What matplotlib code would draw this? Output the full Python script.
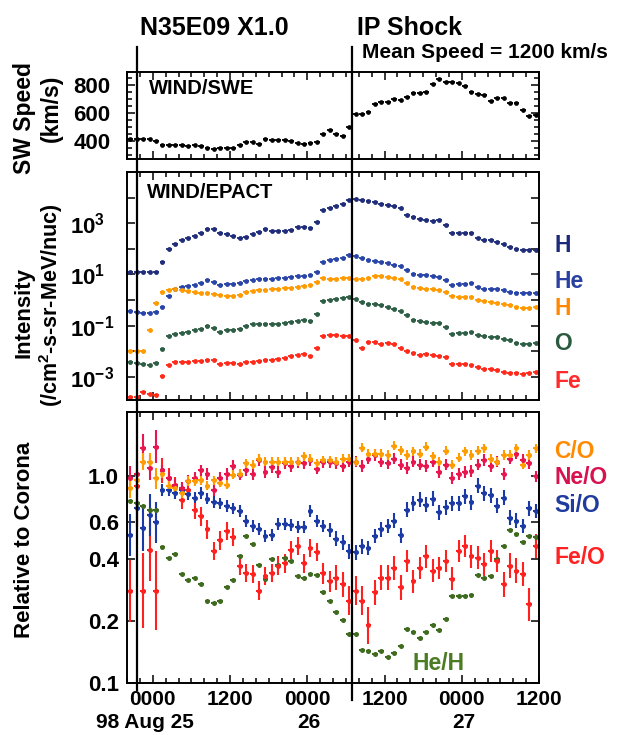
import numpy as np
import matplotlib
matplotlib.use("Agg")
import matplotlib.pyplot as plt
from matplotlib import transforms
from matplotlib.ticker import MultipleLocator, FixedLocator, FuncFormatter, NullLocator

plt.rcParams['font.family'] = ['Liberation Sans', 'DejaVu Sans']
plt.rcParams['font.weight'] = 'bold'
plt.rcParams['mathtext.fontset'] = 'custom'
plt.rcParams['mathtext.rm'] = 'Liberation Sans:bold'
plt.rcParams['mathtext.it'] = 'Liberation Sans:bold:italic'
plt.rcParams['mathtext.bf'] = 'Liberation Sans:bold'

# ---------------- data ----------------
# hourly averages, hours relative to 1998 Aug 25 0000 UT
hours = np.arange(-3.5, 60.5, 1.0)
flare_hour = -2.5      # N35E09 X1.0 flare
shock_hour = 30.9      # IP shock arrival

sw_speed = [416, 416, 414, 412, 395, 369, 369, 369, 369, 362,
            372, 362, 350, 338, 345, 345, 345, 369, 393, 388,
            379, 416, 405, 402, 402, 398, 383, 379, 386, 391,
            445, 474, 445, 433, 498, 593, 590, 607, 659, 679,
            674, 695, 690, 712, 743, 743, 748, 802, 838, 821,
            821, 814, 791, 750, 736, 729, 683, 702, 702, 671,
            667, 616, 576, 583]

# log10 intensities (/cm2-s-sr-MeV/nuc)
H_high_log = [1.1, 1.1, 1.1, 1.1, 1.1, 1.49, 2.01, 2.2, 2.34, 2.44,
              2.49, 2.6, 2.77, 2.77, 2.62, 2.57, 2.49, 2.44, 2.46, 2.57,
              2.66, 2.77, 2.70, 2.68, 2.70, 2.75, 2.86, 2.86, 2.83, 3.03,
              3.51, 3.6, 3.66, 3.77, 3.92, 3.93, 3.92, 3.87, 3.83, 3.77,
              3.70, 3.66, 3.60, 3.34, 3.25, 3.18, 3.14, 3.09, 3.12, 2.92,
              2.62, 2.62, 2.62, 2.6, 2.44, 2.36, 2.34, 2.27, 2.2, 2.07,
              2.01, 1.97, 1.97, 1.97]
He_log = [-0.44, -0.46, -0.5, -0.49, -0.46, -0.27, 0.15, 0.45, 0.51, 0.55,
          0.58, 0.67, 0.77, 0.71, 0.58, 0.64, 0.64, 0.67, 0.75, 0.80,
          0.84, 0.84, 0.84, 0.88, 0.88, 0.90, 0.93, 0.93, 0.97, 1.1,
          1.49, 1.58, 1.62, 1.66, 1.75, 1.71, 1.64, 1.58, 1.53, 1.49,
          1.43, 1.38, 1.32, 1.16, 1.03, 0.97, 0.97, 0.93, 0.90, 0.80,
          0.58, 0.61, 0.61, 0.67, 0.51, 0.45, 0.45, 0.45, 0.41, 0.32,
          0.28, 0.28, 0.28, 0.28]
H_low_log = [-2.0, -2.0, -2.0, -1.15, -0.11, 0.32, 0.41, 0.45, 0.41, 0.36,
             0.32, 0.28, 0.28, 0.23, 0.19, 0.15, 0.15, 0.19, 0.32, 0.36,
             0.38, 0.41, 0.45, 0.45, 0.47, 0.49, 0.51, 0.54, 0.58, 0.7,
             0.88, 0.84, 0.84, 0.88, 0.88, 0.84, 0.84, 0.88, 0.93, 0.93,
             0.90, 0.88, 0.84, 0.67, 0.51, 0.49, 0.45, 0.45, 0.41, 0.32,
             0.15, 0.12, 0.12, 0.12, -0.01, -0.04, -0.08, -0.11, -0.16, -0.2,
             -0.27, -0.3, -0.3, -0.27]
O_log = [-2.42, -2.46, -2.5, -2.55, -2.46, -1.9, -1.41, -1.31, -1.28, -1.24,
         -1.18, -1.12, -1.02, -1.07, -1.24, -1.18, -1.15, -1.12, -1.02, -0.95,
         -0.93, -0.93, -0.93, -0.93, -0.9, -0.85, -0.82, -0.77, -0.82, -0.55,
         -0.03, 0.02, 0.06, 0.1, 0.12, 0.06, -0.07, -0.14, -0.16, -0.2,
         -0.27, -0.33, -0.42, -0.59, -0.76, -0.8, -0.85, -0.89, -0.89, -1.05,
         -1.34, -1.28, -1.28, -1.24, -1.37, -1.41, -1.43, -1.43, -1.5, -1.57,
         -1.67, -1.7, -1.7, -1.67]
Fe_log = [-3.78, -3.8, -3.59, -3.65, -3.7, -2.98, -2.55, -2.42, -2.42, -2.42,
          -2.39, -2.37, -2.33, -2.35, -2.5, -2.46, -2.46, -2.48, -2.42, -2.42,
          -2.37, -2.35, -2.33, -2.31, -2.26, -2.2, -2.16, -2.11, -2.2, -1.86,
          -1.41, -1.35, -1.37, -1.41, -1.41, -1.57, -1.88, -1.65, -1.65, -1.72,
          -1.69, -1.72, -1.86, -1.98, -2.07, -2.16, -2.11, -2.16, -2.18, -2.22,
          -2.5, -2.5, -2.5, -2.52, -2.63, -2.68, -2.68, -2.74, -2.8, -2.85,
          -2.85, -2.9, -2.85, -2.8]

# abundance ratios relative to corona
CO = [0.88, 0.96, 1.18, 1.18, 0.98, 1.03, 0.90, 0.88, 0.83, 0.95,
      0.95, 0.96, 0.90, 0.96, 0.93, 0.91, 1.02, 1.03, 1.16, 1.14,
      1.22, 1.18, 1.18, 1.18, 1.18, 1.18, 1.18, 1.25, 1.22, 1.16,
      1.20, 1.20, 1.18, 1.22, 1.22, 1.18, 1.38, 1.29, 1.29, 1.29,
      1.27, 1.41, 1.34, 1.27, 1.32, 1.29, 1.39, 1.25, 1.18, 1.33,
      1.14, 1.23, 1.32, 1.27, 1.33, 1.37, 1.22, 1.18, 1.27, 1.27,
      1.37, 1.14, 1.27, 1.37]
NeO = [0.98, 1.03, 1.37, 1.10, 1.39, 1.07, 0.98, 0.91, 0.88, 0.95,
       0.98, 1.07, 1.03, 0.86, 0.98, 1.03, 1.12, 1.02, 1.07, 1.03,
       1.20, 1.05, 1.11, 1.05, 1.16, 1.12, 1.17, 1.16, 1.20, 1.09,
       1.17, 1.17, 1.16, 1.12, 1.18, 1.18, 1.12, 1.22, 1.27, 1.18,
       1.16, 1.22, 1.14, 1.10, 1.18, 1.14, 1.12, 1.18, 1.05, 1.14,
       0.98, 1.03, 1.05, 1.06, 1.14, 1.20, 1.12, 1.18, 1.03, 1.22,
       1.29, 1.20, 1.16, 1.0]
SiO = [0.52, 0.70, 0.56, 0.65, 0.60, 0.86, 0.86, 0.83, 0.86, 0.82,
       0.79, 0.83, 0.78, 0.75, 0.74, 0.72, 0.70, 0.68, 0.61, 0.575,
       0.555, 0.515, 0.52, 0.59, 0.59, 0.58, 0.57, 0.57, 0.68, 0.61,
       0.575, 0.55, 0.50, 0.48, 0.435, 0.43, 0.46, 0.45, 0.515, 0.555,
       0.575, 0.61, 0.52, 0.69, 0.74, 0.77, 0.73, 0.78, 0.67, 0.71,
       0.74, 0.74, 0.80, 0.75, 0.90, 0.83, 0.81, 0.72, 0.79, 0.63,
       0.61, 0.575, 0.70, 0.68]
FeO = [0.28, 0.90, 0.28, 0.44, 0.28, 1.07, 0.98, 0.90, 0.77, 0.86,
       0.69, 0.64, 0.555, 0.435, 0.49, 0.545, 0.51, 0.37, 0.34, 0.337,
       0.28, 0.33, 0.34, 0.37, 0.38, 0.44, 0.46, 0.38, 0.45, 0.43,
       0.34, 0.31, 0.324, 0.30, 0.25, 0.28, 0.25, 0.19, 0.275, 0.324,
       0.324, 0.36, 0.29, 0.39, 0.31, 0.36, 0.41, 0.35, 0.36, 0.39,
       0.32, 0.435, 0.46, 0.41, 0.405, 0.376, 0.435, 0.39, 0.30, 0.37,
       0.35, 0.337, 0.24, 0.46]
HeH = [0.76, 0.745, 0.72, 0.69, 0.69, 0.457, 0.405, 0.42, 0.337, 0.315,
       0.324, 0.303, 0.249, 0.243, 0.249, 0.29, 0.315, 0.41, 0.515, 0.47,
       0.373, 0.318, 0.397, 0.373, 0.405, 0.39, 0.33, 0.324, 0.337, 0.334,
       0.277, 0.249, 0.22, 0.202, 0.172, 0.172, 0.144, 0.143, 0.138, 0.143,
       0.133, 0.14, 0.151, 0.183, 0.177, 0.166, 0.177, 0.19, 0.181, 0.205,
       0.265, 0.265, 0.265, 0.268, 0.334, 0.322, 0.33, 0.397, 0.46, 0.55,
       0.528, 0.483, 0.515, 0.51]

# 1-sigma uncertainties in dex
FeO_err = ([0.15, 0.20, 0.18, 0.15, 0.19, 0.06, 0.05] + [0.045] * 23 +
           [0.05, 0.05, 0.06, 0.06, 0.07, 0.07, 0.07, 0.09] + [0.06] * 5 +
           [0.055] * 15 + [0.06, 0.06, 0.06, 0.06, 0.08, 0.06])
SiO_err = [0.10, 0.09, 0.11, 0.10, 0.10] + [0.028] * 26 + [0.036] * 33
NeO_err = [0.06, 0.06, 0.07, 0.06, 0.08] + [0.028] * 59
CO_err = [0.05, 0.05, 0.04, 0.04, 0.05] + [0.022] * 59
HeH_err = [0.0] * 64

# ---------------- figure ----------------
W, H = 620, 735
fig = plt.figure(figsize=(W / 100, H / 100), dpi=100)

def axbox(top, bottom, left=127, right=539):
    return [left / W, 1 - bottom / H, (right - left) / W, (bottom - top) / H]

ax1 = fig.add_axes(axbox(72, 159))
ax2 = fig.add_axes(axbox(172, 400))
ax3 = fig.add_axes(axbox(412, 683))

XERR = 0.45

def style_x(ax, labels):
    ax.set_xlim(-4, 60)
    ax.xaxis.set_major_locator(MultipleLocator(12))
    ax.xaxis.set_minor_locator(MultipleLocator(2))
    if labels:
        ax.xaxis.set_major_formatter(FuncFormatter(lambda v, p: "%02d00" % (int(round(v)) % 24)))
    else:
        ax.set_xticklabels([])
    ax.tick_params(axis='both', which='both', direction='in', top=True, right=True, width=1.1)
    ax.tick_params(axis='both', which='major', length=6)
    ax.tick_params(axis='both', which='minor', length=3.5)
    ax.tick_params(axis='x', labelsize=15, pad=5)
    for s in ax.spines.values():
        s.set_linewidth(1.4)

# --- top panel: solar wind speed
ax1.errorbar(hours, sw_speed, xerr=XERR, fmt='o', ms=3.4, color='black',
             elinewidth=1.3, capsize=0, mew=0)
ax1.set_ylim(270, 890)
ax1.yaxis.set_major_locator(FixedLocator([400, 600, 800]))
ax1.yaxis.set_minor_locator(MultipleLocator(50))
style_x(ax1, False)
ax1.tick_params(axis='y', labelsize=16, pad=12)

# --- middle panel: intensities
int_series = [
    (H_high_log, '#1f2d7a'),
    (He_log, '#2a45a8'),
    (H_low_log, '#ff9a00'),
    (O_log, '#2e5e45'),
    (Fe_log, '#ff2a1a'),
]
for vals, col in int_series:
    ax2.errorbar(hours, 10.0 ** np.array(vals), xerr=XERR, fmt='o', ms=3.5,
                 color=col, elinewidth=1.3, capsize=0, mew=0)
ax2.set_yscale('log')
ax2.set_ylim(10 ** -3.9, 10 ** 5.0)
ax2.yaxis.set_major_locator(FixedLocator(10.0 ** np.arange(-3, 5)))
ax2.yaxis.set_minor_locator(NullLocator())

def int_fmt(v, p):
    e = int(round(np.log10(v)))
    if e % 2 != 0:
        return r"10$^{%d}$" % e
    return ""

ax2.yaxis.set_major_formatter(FuncFormatter(int_fmt))
style_x(ax2, False)
ax2.tick_params(axis='y', labelsize=16, pad=41)
for tk in ax2.yaxis.get_major_ticks():
    tk.label1.set_horizontalalignment('left')

# --- bottom panel: abundance ratios
ratio_series = [
    (HeH, HeH_err, '#3f6b1e'),
    (FeO, FeO_err, '#ff2020'),
    (SiO, SiO_err, '#1c3aa6'),
    (NeO, NeO_err, '#e8154f'),
    (CO, CO_err, '#ff9d00'),
]
for vals, err, col in ratio_series:
    v = np.array(vals)
    e = np.array(err)
    lo = v - v * 10 ** (-e)
    hi = v * 10 ** e - v
    ax3.errorbar(hours, v, xerr=XERR, yerr=[lo, hi], fmt='o', ms=3.6,
                 color=col, elinewidth=1.5, capsize=0, mew=0)
ax3.set_yscale('log')
ax3.set_ylim(0.1, 2.05)
ax3.yaxis.set_major_locator(FixedLocator([0.1, 0.2, 0.4, 0.6, 1.0]))
ax3.yaxis.set_minor_locator(NullLocator())
ax3.yaxis.set_major_formatter(FuncFormatter(lambda v, p: "%.1f" % v))
style_x(ax3, True)
ax3.tick_params(axis='y', labelsize=16, pad=6)

# --- event lines across panels
for hr, ybot in ((flare_hour, 690), (shock_hour, 700)):
    tr = transforms.blended_transform_factory(ax3.transData, fig.transFigure)
    line = plt.Line2D([hr, hr], [1 - 47 / H, 1 - ybot / H], transform=tr,
                      color='black', lw=1.6, clip_on=False)
    fig.add_artist(line)

# --- texts
def ftext(x, y, s, **kw):
    fig.text(x / W, 1 - y / H, s, **kw)

ftext(140, 28, "N35E09 X1.0", fontsize=18, ha='left', va='center')
ftext(357, 28, "IP Shock", fontsize=18, ha='left', va='center')
ftext(362, 53, "Mean Speed = 1200 km/s", fontsize=15, ha='left', va='center')
ftext(149, 88, "WIND/SWE", fontsize=14.5, ha='left', va='center')
ftext(147, 192, "WIND/EPACT", fontsize=14.5, ha='left', va='center')

ftext(24, 118, "SW Speed", fontsize=16.5, rotation=90, ha='center', va='center')
ftext(51, 108, "(km/s)", fontsize=16.5, rotation=90, ha='center', va='center')
ftext(24, 312, "Intensity", fontsize=16, rotation=90, ha='center', va='center')
ftext(51, 305, "(/cm$^2$-s-sr-MeV/nuc)", fontsize=15.5, rotation=90, ha='center', va='center')
ftext(25, 540, "Relative to Corona", fontsize=16, rotation=90, ha='center', va='center')

right_labels = [("H", 246, '#1c2878'), ("He", 281, '#2a40a0'), ("H", 309, '#ff8800'),
                ("O", 343, '#2a5a40'), ("Fe", 381, '#ff2a2a'),
                ("C/O", 452, '#ff8c00'), ("Ne/O", 478, '#d8124e'),
                ("Si/O", 505, '#1f3b9e'), ("Fe/O", 558, '#ff2222')]
for s, y, c in right_labels:
    ftext(554, y, s, fontsize=16.5, color=c, ha='left', va='center')
ftext(412, 663, "He/H", fontsize=16.5, color='#4b7b22', ha='left', va='center')

ftext(145, 723, "98 Aug 25", fontsize=15, ha='center', va='center')
ftext(309, 723, "26", fontsize=15, ha='center', va='center')
ftext(464, 723, "27", fontsize=15, ha='center', va='center')

fig.savefig("out.png", dpi=100)
